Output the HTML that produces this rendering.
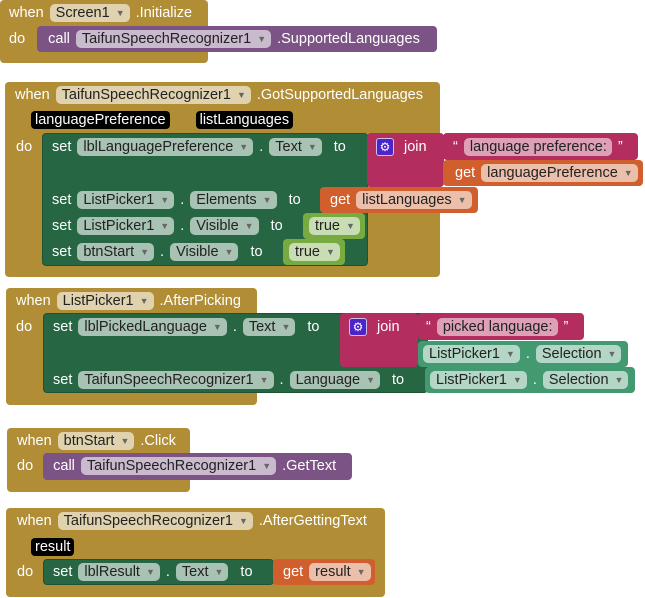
<!DOCTYPE html>
<html><head><meta charset="utf-8"><style>
body{margin:0;width:645px;height:598px;background:#fff;position:relative;overflow:hidden;font-family:"Liberation Sans",Arial,sans-serif;font-size:14.5px;color:#fff}
.b{position:absolute;border-radius:4px}
.g{background:#b18e35}
.s{background:#266643;border:1px solid #1d5234;box-sizing:border-box}
.p{background:#7c5385}
.m{background:#b32d5e}
.o{background:#d05f2d}
.t{background:#77ab41}
.c{background:#439970}
.r{position:absolute;display:flex;align-items:center;gap:6px;height:20px;white-space:nowrap}
.f{display:inline-block;height:18px;line-height:18px;padding:0 5px 0 6px;border-radius:5px;background:rgba(255,255,255,.6);color:#222}
.f i{font-style:normal;font-size:9px;color:#666;margin-left:6px;vertical-align:1px}
.k{background:#000;color:#fff;border-radius:4px;padding:0 4px;height:18px;line-height:18px}
.gear{display:inline-block;width:16px;height:16px;background:#4b25c9;border-radius:3px;color:#fff;font-size:12px;line-height:16px;text-align:center;border:1px solid #c9c0f0}
</style></head><body>

<!-- Block 1 -->
<div class="b g" style="left:0;top:0;width:208px;height:63px"></div>
<div class="b p" style="left:37px;top:26px;width:400px;height:26px"></div>
<div class="r" style="left:9px;top:3px"><span>when</span><span class="f">Screen1<i>▼</i></span><span>.Initialize</span></div>
<div class="r" style="left:9px;top:29px"><span style="margin-right:17px">do</span><span>call</span><span class="f">TaifunSpeechRecognizer1<i>▼</i></span><span>.SupportedLanguages</span></div>

<!-- Block 2 -->
<div class="b g" style="left:5px;top:82px;width:435px;height:195px"></div>
<div class="b s" style="left:42px;top:133px;width:326px;height:133px"></div>
<div class="b m" style="left:367px;top:133px;width:77px;height:54px"></div>
<div class="b m" style="left:443px;top:133px;width:195px;height:27px"></div>
<div class="b o" style="left:443px;top:160px;width:200px;height:26px"></div>
<div class="b o" style="left:320px;top:187px;width:158px;height:26px"></div>
<div class="b t" style="left:303px;top:213px;width:62px;height:26px"></div>
<div class="b t" style="left:283px;top:239px;width:62px;height:26px"></div>
<div class="r" style="left:15px;top:85px"><span>when</span><span class="f">TaifunSpeechRecognizer1<i>▼</i></span><span>.GotSupportedLanguages</span></div>
<div class="r" style="left:31px;top:110px"><span class="k">languagePreference</span><span class="k" style="margin-left:20px">listLanguages</span></div>
<div class="r" style="left:16px;top:137px">do</div>
<div class="r" style="left:52px;top:137px"><span>set</span><span class="f">lblLanguagePreference<i>▼</i></span><span>.</span><span class="f">Text<i>▼</i></span><span style="margin-left:6px">to</span></div>
<div class="r" style="left:376px;top:137px"><span class="gear">⚙</span><span style="margin-left:4px">join</span></div>
<div class="r" style="left:453px;top:137px"><span>“</span><span class="f" style="background:rgba(255,255,255,.55)">language preference:</span><span>”</span></div>
<div class="r" style="left:455px;top:163px"><span>get</span><span class="f">languagePreference<i>▼</i></span></div>
<div class="r" style="left:52px;top:190px"><span>set</span><span class="f">ListPicker1<i>▼</i></span><span>.</span><span class="f">Elements<i>▼</i></span><span style="margin-left:6px">to</span></div>
<div class="r" style="left:330px;top:190px"><span>get</span><span class="f">listLanguages<i>▼</i></span></div>
<div class="r" style="left:52px;top:216px"><span>set</span><span class="f">ListPicker1<i>▼</i></span><span>.</span><span class="f">Visible<i>▼</i></span><span style="margin-left:6px">to</span></div>
<div class="r" style="left:309px;top:216px"><span class="f">true<i>▼</i></span></div>
<div class="r" style="left:52px;top:242px"><span>set</span><span class="f">btnStart<i>▼</i></span><span>.</span><span class="f">Visible<i>▼</i></span><span style="margin-left:6px">to</span></div>
<div class="r" style="left:289px;top:242px"><span class="f">true<i>▼</i></span></div>

<!-- Block 3 -->
<div class="b g" style="left:6px;top:288px;width:251px;height:117px"></div>
<div class="b s" style="left:43px;top:313px;width:385px;height:80px"></div>
<div class="b m" style="left:340px;top:313px;width:78px;height:54px"></div>
<div class="b m" style="left:418px;top:313px;width:166px;height:27px"></div>
<div class="b c" style="left:418px;top:341px;width:210px;height:26px"></div>
<div class="b c" style="left:425px;top:367px;width:210px;height:26px"></div>
<div class="r" style="left:16px;top:291px"><span>when</span><span class="f">ListPicker1<i>▼</i></span><span>.AfterPicking</span></div>
<div class="r" style="left:16px;top:317px">do</div>
<div class="r" style="left:53px;top:317px"><span>set</span><span class="f">lblPickedLanguage<i>▼</i></span><span>.</span><span class="f">Text<i>▼</i></span><span style="margin-left:6px">to</span></div>
<div class="r" style="left:349px;top:317px"><span class="gear">⚙</span><span style="margin-left:4px">join</span></div>
<div class="r" style="left:426px;top:317px"><span>“</span><span class="f" style="background:rgba(255,255,255,.55)">picked language:</span><span>”</span></div>
<div class="r" style="left:423px;top:344px"><span class="f">ListPicker1<i>▼</i></span><span>.</span><span class="f">Selection<i>▼</i></span></div>
<div class="r" style="left:53px;top:370px"><span>set</span><span class="f">TaifunSpeechRecognizer1<i>▼</i></span><span>.</span><span class="f">Language<i>▼</i></span><span style="margin-left:6px">to</span></div>
<div class="r" style="left:430px;top:370px"><span class="f">ListPicker1<i>▼</i></span><span>.</span><span class="f">Selection<i>▼</i></span></div>

<!-- Block 4 -->
<div class="b g" style="left:7px;top:428px;width:183px;height:64px"></div>
<div class="b p" style="left:43px;top:453px;width:309px;height:27px"></div>
<div class="r" style="left:17px;top:431px"><span>when</span><span class="f">btnStart<i>▼</i></span><span>.Click</span></div>
<div class="r" style="left:17px;top:456px"><span style="margin-right:14px">do</span><span>call</span><span class="f">TaifunSpeechRecognizer1<i>▼</i></span><span>.GetText</span></div>

<!-- Block 5 -->
<div class="b g" style="left:6px;top:508px;width:379px;height:89px"></div>
<div class="b s" style="left:43px;top:559px;width:231px;height:26px"></div>
<div class="b o" style="left:273px;top:559px;width:102px;height:26px"></div>
<div class="r" style="left:17px;top:511px"><span>when</span><span class="f">TaifunSpeechRecognizer1<i>▼</i></span><span>.AfterGettingText</span></div>
<div class="r" style="left:31px;top:537px"><span class="k">result</span></div>
<div class="r" style="left:17px;top:562px">do</div>
<div class="r" style="left:53px;top:562px"><span>set</span><span class="f">lblResult<i>▼</i></span><span>.</span><span class="f">Text<i>▼</i></span><span style="margin-left:6px">to</span></div>
<div class="r" style="left:283px;top:562px"><span>get</span><span class="f">result<i>▼</i></span></div>
</body></html>
